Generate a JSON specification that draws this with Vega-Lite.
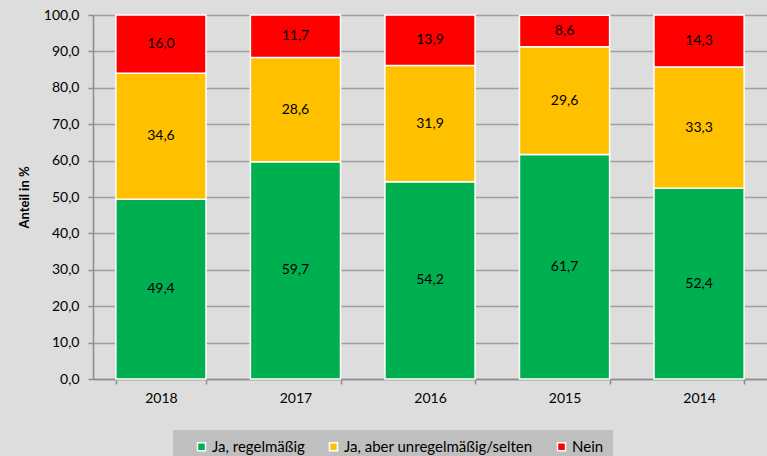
{
  "$schema": "https://vega.github.io/schema/vega-lite/v6.json",
  "width": 674,
  "height": 364,
  "autosize": {"type": "none"},
  "padding": {"left": 93, "top": 15, "right": 0, "bottom": 77},
  "background": "#dddddd",
  "config": {
    "view": {"stroke": null},
    "font": "Lato",
    "locale": {"number": {"decimal": ",", "thousands": ".", "grouping": [3], "currency": ["", " €"]}},
    "axisY": {
      "titleFontSize": 13,
      "titleFontWeight": "bold",
      "titleColor": "#000000",
      "titlePadding": 12,
      "values": [0, 10, 20, 30, 40, 50, 60, 70, 80, 90, 100],
      "format": ".1f",
      "labelFontSize": 14,
      "labelColor": "#000000",
      "labelPadding": 9,
      "labelOverlap": false,
      "tickSize": 5,
      "tickColor": "#8c8c8c",
      "tickWidth": 1.5,
      "domainColor": "#8c8c8c",
      "domainWidth": 1.5,
      "gridColor": "#a0a0a0",
      "gridWidth": 1.5
    }
  },
  "data": {
    "values": [
      {"year": "2018", "cat": "Ja, regelmäßig", "ord": 1, "value": 49.4},
      {"year": "2018", "cat": "Ja, aber unregelmäßig/selten", "ord": 2, "value": 34.6},
      {"year": "2018", "cat": "Nein", "ord": 3, "value": 16.0},
      {"year": "2017", "cat": "Ja, regelmäßig", "ord": 1, "value": 59.7},
      {"year": "2017", "cat": "Ja, aber unregelmäßig/selten", "ord": 2, "value": 28.6},
      {"year": "2017", "cat": "Nein", "ord": 3, "value": 11.7},
      {"year": "2016", "cat": "Ja, regelmäßig", "ord": 1, "value": 54.2},
      {"year": "2016", "cat": "Ja, aber unregelmäßig/selten", "ord": 2, "value": 31.9},
      {"year": "2016", "cat": "Nein", "ord": 3, "value": 13.9},
      {"year": "2015", "cat": "Ja, regelmäßig", "ord": 1, "value": 61.7},
      {"year": "2015", "cat": "Ja, aber unregelmäßig/selten", "ord": 2, "value": 29.6},
      {"year": "2015", "cat": "Nein", "ord": 3, "value": 8.6},
      {"year": "2014", "cat": "Ja, regelmäßig", "ord": 1, "value": 52.4},
      {"year": "2014", "cat": "Ja, aber unregelmäßig/selten", "ord": 2, "value": 33.3},
      {"year": "2014", "cat": "Nein", "ord": 3, "value": 14.3}
    ]
  },
  "transform": [
    {"stack": "value", "groupby": ["year"], "sort": [{"field": "ord", "order": "ascending"}], "as": ["v0", "v1"]},
    {"calculate": "(datum.v0 + datum.v1) / 2", "as": "vmid"}
  ],
  "encoding": {
    "x": {
      "field": "year",
      "type": "nominal",
      "sort": ["2018", "2017", "2016", "2015", "2014"],
      "scale": {"paddingInner": 0.33, "paddingOuter": 0.17},
      "axis": {
        "title": null,
        "labelAngle": 0,
        "labelFontSize": 14,
        "labelColor": "#000000",
        "labelPadding": 7,
        "tickBand": "extent",
        "tickSize": 5,
        "tickColor": "#8c8c8c",
        "tickWidth": 1.5,
        "domainColor": "#8c8c8c",
        "domainWidth": 1.5,
        "grid": false
      }
    }
  },
  "layer": [
    {
      "mark": {"type": "bar", "stroke": "#ffffff", "strokeWidth": 1.5},
      "encoding": {
        "y": {
          "field": "v0",
          "type": "quantitative",
          "title": "Anteil in %",
          "scale": {"domain": [0, 100]}
        },
        "y2": {"field": "v1"},
        "color": {
          "field": "cat",
          "type": "nominal",
          "sort": ["Ja, regelmäßig", "Ja, aber unregelmäßig/selten", "Nein"],
          "scale": {
            "domain": ["Ja, regelmäßig", "Ja, aber unregelmäßig/selten", "Nein"],
            "range": ["#00b050", "#ffc000", "#ff0000"]
          },
          "legend": {
            "title": "\u00a0",
            "titleOrient": "left",
            "titleFontSize": 4,
            "titlePadding": 12,
            "orient": "none",
            "direction": "horizontal",
            "legendX": 80,
            "legendY": 415,
            "fillColor": "#bfbfbf",
            "padding": 9,
            "symbolType": "square",
            "symbolSize": 64,
            "symbolStrokeColor": "#ffffff",
            "symbolStrokeWidth": 1.5,
            "labelFontSize": 15,
            "labelLimit": 400,
            "labelColor": "#000000",
            "labelOffset": 3,
            "columnPadding": 21
          }
        }
      }
    },
    {
      "mark": {"type": "text", "fontSize": 14, "color": "#000000"},
      "encoding": {
        "y": {"field": "vmid", "type": "quantitative", "title": "Anteil in %"},
        "text": {"field": "value", "type": "quantitative", "format": ".1f"}
      }
    }
  ]
}
